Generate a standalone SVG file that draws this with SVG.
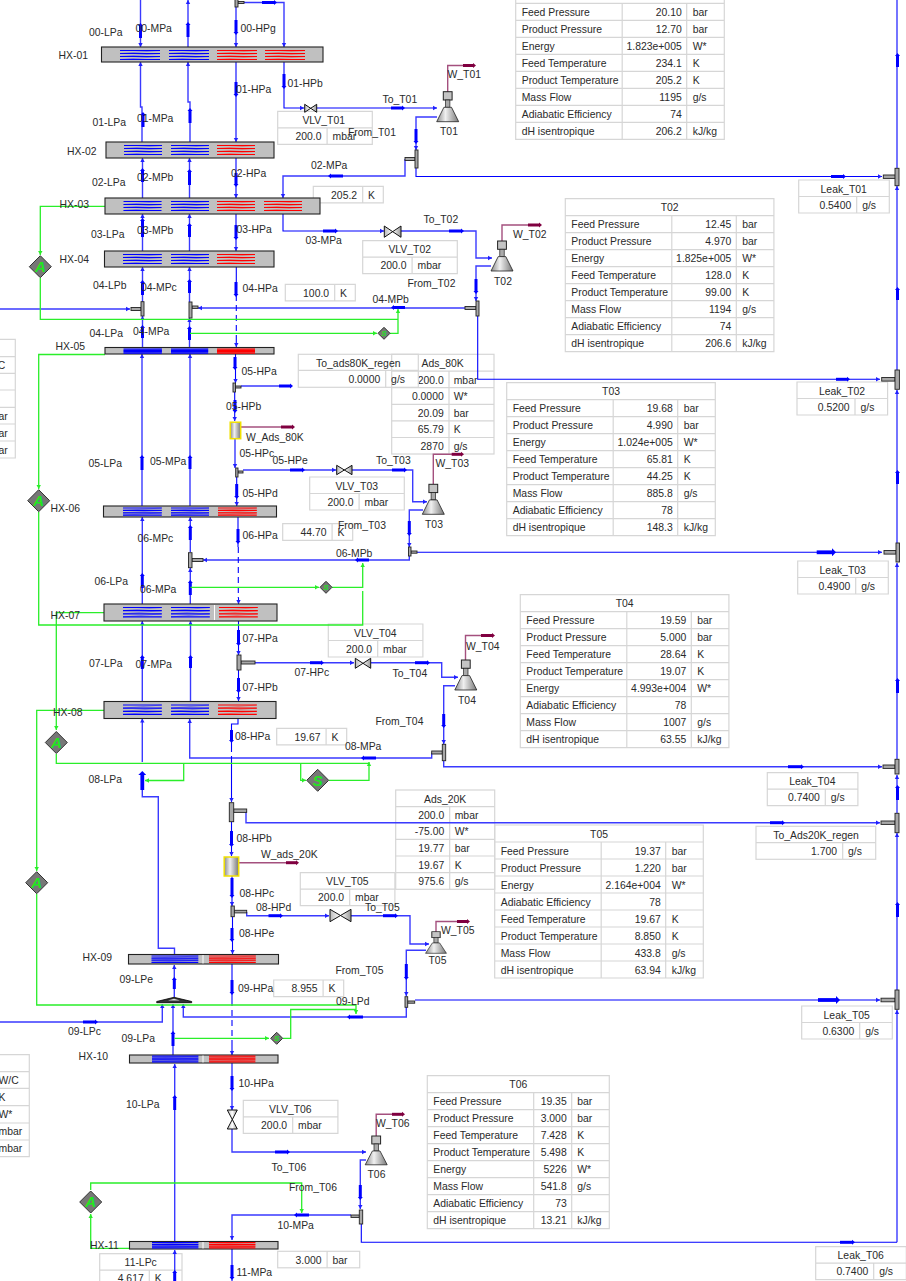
<svg xmlns="http://www.w3.org/2000/svg" width="906" height="1281" viewBox="0 0 906 1281">
<style>
text{font-family:"Liberation Sans",Arial,sans-serif;font-size:10.4px;fill:#2a2a2a}
.n{text-anchor:end}.c{text-anchor:middle}
.tb rect,.tb path,.gr{fill:none;stroke:#d6d6d6;stroke-width:1.2}
.p path{fill:none;stroke:#0000ff;stroke-width:1.1}
.q path{fill:none;stroke:#3a3aff;stroke-width:1.4}
.d path{fill:none;stroke:#0000ff;stroke-width:1.1;stroke-dasharray:6 4}
.a{marker-end:url(#ab)}
.fat path{fill:none;stroke:#0000ff;stroke-width:3;marker-end:url(#fh)}
.lng path{fill:none;stroke:#0000ff;stroke-width:3.8;marker-end:url(#fh2)}
.g path{fill:none;stroke:#2aee2a;stroke-width:1.3}
.ga{marker-end:url(#ag)}
.w path{fill:none;stroke:#a4507e;stroke-width:1.4}
.wf path{fill:none;stroke:#800040;stroke-width:3;marker-end:url(#wh)}
.hx{fill:#c0c0c0;stroke:#222;stroke-width:1.1}
.coil{fill:none;stroke-width:1.2;vector-effect:non-scaling-stroke}
.cz{fill:none;stroke-width:.6;stroke-opacity:.55;vector-effect:non-scaling-stroke}
.b{stroke:#0000ff}.r{stroke:#ff0000}
.tee{fill:#a8a8a8;stroke:#222;stroke-width:.9}
.dia{fill:#777;stroke:#333;stroke-width:1}
.dt{font-weight:bold;font-style:italic;fill:#1fe81f;text-anchor:middle;font-size:15px}
.ds{font-weight:bold;font-style:italic;fill:#1fe81f;text-anchor:middle;font-size:8px}
.vl{fill:url(#gv);stroke:#111;stroke-width:1}
.ads{fill:url(#gt);stroke:#f0e000;stroke-width:1.5}
</style>
<defs>
<linearGradient id="gt"><stop offset="0" stop-color="#8a8a8a"/><stop offset=".4" stop-color="#f0f0f0"/><stop offset="1" stop-color="#777"/></linearGradient>
<linearGradient id="gv"><stop offset="0" stop-color="#bbb"/><stop offset=".5" stop-color="#fff"/><stop offset="1" stop-color="#999"/></linearGradient>
<marker id="ab" markerUnits="userSpaceOnUse" markerWidth="6" markerHeight="6" refX="4" refY="3" orient="auto"><path d="M0 .8L4 3L0 5.2Z" fill="#2020ff"/></marker>
<marker id="ag" markerUnits="userSpaceOnUse" markerWidth="6" markerHeight="6" refX="4" refY="3" orient="auto"><path d="M0 .8L4 3L0 5.2Z" fill="#2aee2a"/></marker>
<marker id="fh" markerUnits="userSpaceOnUse" markerWidth="6" markerHeight="8" refX="0" refY="4" orient="auto"><path d="M0 1.5L3 4L0 6.5Z" fill="#0000ff"/></marker>
<marker id="fh2" markerUnits="userSpaceOnUse" markerWidth="6" markerHeight="8" refX="0" refY="4" orient="auto"><path d="M0 0L4 4L0 8Z" fill="#0000ff"/></marker>
<marker id="wh" markerUnits="userSpaceOnUse" markerWidth="6" markerHeight="8" refX="0" refY="4" orient="auto"><path d="M0 1.5L3 4L0 6.5Z" fill="#800040"/></marker>
<g id="c"><path class="coil" d="M0 0H40M0 3H40M0 6H40M0 9H40"/><path class="cz" d="M40 0L0 3M40 3L0 6M40 6L0 9"/></g>
<path id="g9" class="gr" d="M0 0H208.6V153H0ZM0 17H208.6M0 34H208.6M0 51H208.6M0 68H208.6M0 85H208.6M0 102H208.6M0 119H208.6M0 136H208.6M106.5 17V153M171 17V153"/>
<path id="g6" class="gr" d="M0 0H182V153H0ZM0 17H182M0 34H182M0 51H182M0 68H182M0 85H182M0 102H182M0 119H182M0 136H182M106.4 17V153M144.4 17V153"/>
<path id="g2" class="gr" d="M0 0H94.6V33H0ZM0 16.5H94.6M49.4 16.5V33"/>
<path id="g1" class="gr" d="M0 0H70V16.6H0ZM49.4 0V16.6"/>
<path id="g3" class="gr" d="M0 0H90.6V33H0ZM0 16.5H90.6M58 16.5V33"/>
<g id="tb"><rect x="-4.4" y="0" width="8.8" height="8.3" fill="#c4c4c4" stroke="#222"/><rect x="-2.2" y="8.3" width="4.4" height="7.3" fill="#aaa" stroke="#222" stroke-width=".7"/><path d="M-3.8 15.6H3.8L11 30H-11Z" fill="url(#gt)" stroke="#222" stroke-width=".8"/></g>
<path id="dia" class="dia" d="M0 -11L11 0L0 11L-11 0Z"/>
<path id="dis" class="dia" d="M0 -6L6 0L0 6L-6 0Z"/>
</defs>
<rect width="906" height="1281" fill="#fff"/>

<g id="tables">
<g id="tbl-T01" class="tb" transform="translate(515.7,-13.7)"><use href="#g9"/>
<text x="6" y="29.5">Feed Pressure</text><text class="n" x="166" y="29.5">20.10</text><text x="177" y="29.5">bar</text>
<text x="6" y="46.5">Product Pressure</text><text class="n" x="166" y="46.5">12.70</text><text x="177" y="46.5">bar</text>
<text x="6" y="63.5">Energy</text><text class="n" x="166" y="63.5">1.823e+005</text><text x="177" y="63.5">W*</text>
<text x="6" y="80.5">Feed Temperature</text><text class="n" x="166" y="80.5">234.1</text><text x="177" y="80.5">K</text>
<text x="6" y="97.5">Product Temperature</text><text class="n" x="166" y="97.5">205.2</text><text x="177" y="97.5">K</text>
<text x="6" y="114.5">Mass Flow</text><text class="n" x="166" y="114.5">1195</text><text x="177" y="114.5">g/s</text>
<text x="6" y="131.5">Adiabatic Efficiency</text><text class="n" x="166" y="131.5">74</text>
<text x="6" y="148.5">dH isentropique</text><text class="n" x="166" y="148.5">206.2</text><text x="177" y="148.5">kJ/kg</text></g>
<g id="tbl-T02" class="tb" transform="translate(565.3,198.7)"><use href="#g9"/><text class="c" x="104.3" y="12.5">T02</text>
<text x="6" y="29.5">Feed Pressure</text><text class="n" x="166" y="29.5">12.45</text><text x="177" y="29.5">bar</text>
<text x="6" y="46.5">Product Pressure</text><text class="n" x="166" y="46.5">4.970</text><text x="177" y="46.5">bar</text>
<text x="6" y="63.5">Energy</text><text class="n" x="166" y="63.5">1.825e+005</text><text x="177" y="63.5">W*</text>
<text x="6" y="80.5">Feed Temperature</text><text class="n" x="166" y="80.5">128.0</text><text x="177" y="80.5">K</text>
<text x="6" y="97.5">Product Temperature</text><text class="n" x="166" y="97.5">99.00</text><text x="177" y="97.5">K</text>
<text x="6" y="114.5">Mass Flow</text><text class="n" x="166" y="114.5">1194</text><text x="177" y="114.5">g/s</text>
<text x="6" y="131.5">Adiabatic Efficiency</text><text class="n" x="166" y="131.5">74</text>
<text x="6" y="148.5">dH isentropique</text><text class="n" x="166" y="148.5">206.6</text><text x="177" y="148.5">kJ/kg</text></g>
<g id="tbl-T03" class="tb" transform="translate(506.7,382.7)"><use href="#g9"/><text class="c" x="104.3" y="12.5">T03</text>
<text x="6" y="29.5">Feed Pressure</text><text class="n" x="166" y="29.5">19.68</text><text x="177" y="29.5">bar</text>
<text x="6" y="46.5">Product Pressure</text><text class="n" x="166" y="46.5">4.990</text><text x="177" y="46.5">bar</text>
<text x="6" y="63.5">Energy</text><text class="n" x="166" y="63.5">1.024e+005</text><text x="177" y="63.5">W*</text>
<text x="6" y="80.5">Feed Temperature</text><text class="n" x="166" y="80.5">65.81</text><text x="177" y="80.5">K</text>
<text x="6" y="97.5">Product Temperature</text><text class="n" x="166" y="97.5">44.25</text><text x="177" y="97.5">K</text>
<text x="6" y="114.5">Mass Flow</text><text class="n" x="166" y="114.5">885.8</text><text x="177" y="114.5">g/s</text>
<text x="6" y="131.5">Adiabatic Efficiency</text><text class="n" x="166" y="131.5">78</text>
<text x="6" y="148.5">dH isentropique</text><text class="n" x="166" y="148.5">148.3</text><text x="177" y="148.5">kJ/kg</text></g>
<g id="tbl-T04" class="tb" transform="translate(520.3,594.7)"><use href="#g9"/><text class="c" x="104.3" y="12.5">T04</text>
<text x="6" y="29.5">Feed Pressure</text><text class="n" x="166" y="29.5">19.59</text><text x="177" y="29.5">bar</text>
<text x="6" y="46.5">Product Pressure</text><text class="n" x="166" y="46.5">5.000</text><text x="177" y="46.5">bar</text>
<text x="6" y="63.5">Feed Temperature</text><text class="n" x="166" y="63.5">28.64</text><text x="177" y="63.5">K</text>
<text x="6" y="80.5">Product Temperature</text><text class="n" x="166" y="80.5">19.07</text><text x="177" y="80.5">K</text>
<text x="6" y="97.5">Energy</text><text class="n" x="166" y="97.5">4.993e+004</text><text x="177" y="97.5">W*</text>
<text x="6" y="114.5">Adiabatic Efficiency</text><text class="n" x="166" y="114.5">78</text>
<text x="6" y="131.5">Mass Flow</text><text class="n" x="166" y="131.5">1007</text><text x="177" y="131.5">g/s</text>
<text x="6" y="148.5">dH isentropique</text><text class="n" x="166" y="148.5">63.55</text><text x="177" y="148.5">kJ/kg</text></g>
<g id="tbl-T05" class="tb" transform="translate(494.7,825)"><use href="#g9"/><text class="c" x="104.3" y="12.5">T05</text>
<text x="6" y="29.5">Feed Pressure</text><text class="n" x="166" y="29.5">19.37</text><text x="177" y="29.5">bar</text>
<text x="6" y="46.5">Product Pressure</text><text class="n" x="166" y="46.5">1.220</text><text x="177" y="46.5">bar</text>
<text x="6" y="63.5">Energy</text><text class="n" x="166" y="63.5">2.164e+004</text><text x="177" y="63.5">W*</text>
<text x="6" y="80.5">Adiabatic Efficiency</text><text class="n" x="166" y="80.5">78</text>
<text x="6" y="97.5">Feed Temperature</text><text class="n" x="166" y="97.5">19.67</text><text x="177" y="97.5">K</text>
<text x="6" y="114.5">Product Temperature</text><text class="n" x="166" y="114.5">8.850</text><text x="177" y="114.5">K</text>
<text x="6" y="131.5">Mass Flow</text><text class="n" x="166" y="131.5">433.8</text><text x="177" y="131.5">g/s</text>
<text x="6" y="148.5">dH isentropique</text><text class="n" x="166" y="148.5">63.94</text><text x="177" y="148.5">kJ/kg</text></g>
<g id="tbl-T06" class="tb" transform="translate(427.3,1075.7)"><use href="#g6"/><text class="c" x="91" y="12.5">T06</text>
<text x="6" y="29.5">Feed Pressure</text><text class="n" x="139.4" y="29.5">19.35</text><text x="150" y="29.5">bar</text>
<text x="6" y="46.5">Product Pressure</text><text class="n" x="139.4" y="46.5">3.000</text><text x="150" y="46.5">bar</text>
<text x="6" y="63.5">Feed Temperature</text><text class="n" x="139.4" y="63.5">7.428</text><text x="150" y="63.5">K</text>
<text x="6" y="80.5">Product Temperature</text><text class="n" x="139.4" y="80.5">5.498</text><text x="150" y="80.5">K</text>
<text x="6" y="97.5">Energy</text><text class="n" x="139.4" y="97.5">5226</text><text x="150" y="97.5">W*</text>
<text x="6" y="114.5">Mass Flow</text><text class="n" x="139.4" y="114.5">541.8</text><text x="150" y="114.5">g/s</text>
<text x="6" y="131.5">Adiabatic Efficiency</text><text class="n" x="139.4" y="131.5">73</text>
<text x="6" y="148.5">dH isentropique</text><text class="n" x="139.4" y="148.5">13.21</text><text x="150" y="148.5">kJ/kg</text></g>

<g id="tbl-Ads80" class="tb" transform="translate(391.7,354.3)"><rect width="102.3" height="99.7"/><path d="M0 16.8H102.3M0 33.4H102.3M0 50H102.3M0 66.6H102.3M0 83.2H102.3M57.3 16.8V99.7"/>
<text class="c" x="51" y="12.5">Ads_80K</text>
<text class="n" x="52" y="29.5">200.0</text><text x="62" y="29.5">mbar</text>
<text class="n" x="52" y="46">0.0000</text><text x="62" y="46">W*</text>
<text class="n" x="52" y="62.8">20.09</text><text x="62" y="62.8">bar</text>
<text class="n" x="52" y="79">65.79</text><text x="62" y="79">K</text>
<text class="n" x="52" y="96">2870</text><text x="62" y="96">g/s</text></g>
<g id="tbl-regen80" class="tb" transform="translate(298.3,354.3)"><rect width="120" height="33"/><path d="M0 16H120M87.4 16V33"/><text class="c" x="60" y="12.5">To_ads80K_regen</text><text class="n" x="81.9" y="28.5">0.0000</text><text x="92.8" y="28.5">g/s</text></g>
<g id="tbl-Ads20" class="tb" transform="translate(395.7,790)"><rect width="99" height="99.3"/><path d="M0 16.7H99M0 32.7H99M0 49.3H99M0 66H99M0 82.7H99M54 16.7V99.3"/>
<text class="c" x="49.5" y="12.5">Ads_20K</text>
<text class="n" x="48.5" y="29">200.0</text><text x="59" y="29">mbar</text>
<text class="n" x="48.5" y="45.2">-75.00</text><text x="59" y="45.2">W*</text>
<text class="n" x="48.5" y="62">19.77</text><text x="59" y="62">bar</text>
<text class="n" x="48.5" y="78.5">19.67</text><text x="59" y="78.5">K</text>
<text class="n" x="48.5" y="95">975.6</text><text x="59" y="95">g/s</text></g>

<g id="tbl-VLV_T01" class="tb" transform="translate(277.7,111.3)"><use href="#g2"/><text class="c" x="46" y="12.5">VLV_T01</text><text class="n" x="43.8" y="28.8">200.0</text><text x="54.8" y="28.8">mbar</text></g>
<g id="tbl-VLV_T02" class="tb" transform="translate(362.7,240.7)"><use href="#g2"/><text class="c" x="47" y="12.5">VLV_T02</text><text class="n" x="43.8" y="28.8">200.0</text><text x="54.8" y="28.8">mbar</text></g>
<g id="tbl-VLV_T03" class="tb" transform="translate(309.7,477)"><use href="#g2"/><text class="c" x="47" y="12.5">VLV_T03</text><text class="n" x="43.8" y="28.8">200.0</text><text x="54.8" y="28.8">mbar</text></g>
<g id="tbl-VLV_T04" class="tb" transform="translate(328.3,624)"><use href="#g2"/><text class="c" x="47" y="12.5">VLV_T04</text><text class="n" x="43.8" y="28.8">200.0</text><text x="54.8" y="28.8">mbar</text></g>
<g id="tbl-VLV_T05" class="tb" transform="translate(300.3,872.7)"><use href="#g2"/><text class="c" x="47" y="12.5">VLV_T05</text><text class="n" x="43.8" y="28.8">200.0</text><text x="54.8" y="28.8">mbar</text></g>
<g id="tbl-VLV_T06" class="tb" transform="translate(243.3,1100.3)"><use href="#g2"/><text class="c" x="47" y="12.5">VLV_T06</text><text class="n" x="43.8" y="28.8">200.0</text><text x="54.8" y="28.8">mbar</text></g>

<g class="tb" transform="translate(313.3,186.3)"><use href="#g1"/><text class="n" x="43.8" y="12.3">205.2</text><text x="54.8" y="12.3">K</text></g>
<g class="tb" transform="translate(285.3,284.3)"><use href="#g1"/><text class="n" x="43.8" y="12.3">100.0</text><text x="54.8" y="12.3">K</text></g>
<g class="tb" transform="translate(282.7,523.7)"><use href="#g1"/><text class="n" x="43.8" y="12.3">44.70</text><text x="54.8" y="12.3">K</text></g>
<g class="tb" transform="translate(276.7,728.3)"><use href="#g1"/><text class="n" x="43.8" y="12.3">19.67</text><text x="54.8" y="12.3">K</text></g>
<g class="tb" transform="translate(273.7,980)"><use href="#g1"/><text class="n" x="43.8" y="12.3">8.955</text><text x="54.8" y="12.3">K</text></g>
<g class="tb" transform="translate(277.7,1251.3)"><rect width="82" height="16.5"/><path d="M49.4 0V16.5"/><text class="n" x="43.8" y="12.3">3.000</text><text x="54.8" y="12.3">bar</text></g>

<g class="tb" transform="translate(798.7,180)"><use href="#g3"/><text class="c" x="45" y="12.5">Leak_T01</text><text class="n" x="52.5" y="28.8">0.5400</text><text x="63.5" y="28.8">g/s</text></g>
<g class="tb" transform="translate(797,382)"><use href="#g3"/><text class="c" x="45" y="12.5">Leak_T02</text><text class="n" x="52.5" y="28.8">0.5200</text><text x="63.5" y="28.8">g/s</text></g>
<g class="tb" transform="translate(797.7,561)"><use href="#g3"/><text class="c" x="45" y="12.5">Leak_T03</text><text class="n" x="52.5" y="28.8">0.4900</text><text x="63.5" y="28.8">g/s</text></g>
<g class="tb" transform="translate(767.3,772.7)"><use href="#g3"/><text class="c" x="45" y="12.5">Leak_T04</text><text class="n" x="52.5" y="28.8">0.7400</text><text x="63.5" y="28.8">g/s</text></g>
<g class="tb" transform="translate(801.7,1006)"><use href="#g3"/><text class="c" x="45" y="12.5">Leak_T05</text><text class="n" x="52.5" y="28.8">0.6300</text><text x="63.5" y="28.8">g/s</text></g>
<g class="tb" transform="translate(815.7,1246.7)"><use href="#g3"/><text class="c" x="45" y="12.5">Leak_T06</text><text class="n" x="52.5" y="28.8">0.7400</text><text x="63.5" y="28.8">g/s</text></g>
<g class="tb" transform="translate(756,826.3)"><rect width="119.7" height="33"/><path d="M0 16.4H119.7M86.7 16.4V33"/><text class="c" x="60" y="12.5">To_Ads20K_regen</text><text class="n" x="81" y="28.8">1.700</text><text x="92" y="28.8">g/s</text></g>
<g class="tb" transform="translate(99.7,1253.7)"><rect width="82.3" height="40"/><path d="M0 16.4H82.3M49.6 16.4V40"/><text class="c" x="41" y="12.5">11-LPc</text><text class="n" x="44" y="28.8">4.617</text><text x="55" y="28.8">K</text></g>

<g class="tb"><path d="M-2 339.3H15.3V458H-2M-2 356.7H15.3M-2 373.3H15.3M-2 390H15.3M-2 407.3H15.3M-2 424H15.3M-2 441H15.3"/>
<text x="-15" y="369">W/C</text><text x="-7.3" y="420">bar</text><text x="-7.3" y="437">bar</text><text x="-7.3" y="454">bar</text></g>
<g class="tb"><path d="M-2 1054.7H29.3V1156.7H-2M-2 1071.7H29.3M-2 1088.3H29.3M-2 1105.7H29.3M-2 1123H29.3M-2 1140H29.3"/>
<text x="-1.5" y="1084">W/C</text><text x="-1.5" y="1101">K</text><text x="-1.5" y="1118">W*</text><text x="-1.5" y="1135">mbar</text><text x="-1.5" y="1152">mbar</text></g>
</g>

<g id="connectors">
<g class="q">
<path class="a" d="M140.5 0V47"/><path class="a" d="M142 142V107H140.5V62"/><path class="a" d="M142.5 198V158"/><path class="a" d="M142.5 251V214"/><path class="a" d="M142.5 302V267"/><path class="a" d="M142.5 347V316"/><path class="a" d="M142 506V354"/><path class="a" d="M142.3 604V517"/><path class="a" d="M142.3 701V621"/><path class="a" d="M142.3 762V718.5"/>
<path d="M174.5 954V948.3H158.3V796.7H142.3V788"/>
<path class="a" d="M188 47V0"/><path class="a" d="M190 142V102H188V62"/><path class="a" d="M189.5 198V158"/><path class="a" d="M189.5 251V214"/><path class="a" d="M189.5 302V267"/><path class="a" d="M189.5 347V318"/><path class="a" d="M190 506V354"/><path class="a" d="M190.3 552V517"/><path class="a" d="M190.3 604V568"/><path class="a" d="M190.5 701V621"/>
<path class="a" d="M431.7 752.7V758H189.7V719"/>
<path class="a" d="M244 2.5H284V47"/><path class="a" d="M437 117H416V150"/><path class="a" d="M405 159V176H283V198"/><path class="a" d="M401 231H476V258H492"/><path class="a" d="M491 266H476V301"/><path class="a" d="M465 308H198"/><path class="a" d="M0 309H130"/>
<path d="M241 386H280"/><path class="a" d="M243 470H336"/><path class="a" d="M352 470H412.7V501.7H427"/><path class="a" d="M423 510H409.3V547"/><path class="a" d="M409.3 556V560H203"/>
<path class="a" d="M255 662.7H354"/><path class="a" d="M371 662.7H441.7V677.3H458"/><path class="a" d="M455 685.7H443.7V744"/><path class="a" d="M443.7 761V766.7H882"/>
<path class="a" d="M246 811V822.7H880"/><path class="a" d="M246.7 912V915.7H329"/><path class="a" d="M351 915.7H410V944H429"/><path class="a" d="M426 950.3H406.3V996"/><path class="a" d="M406.3 1007V1017H183.3V1004"/><path class="a" d="M0 1022H162.3V1004"/><path class="a" d="M173 1055V1004"/><path class="a" d="M174.3 997V965"/>
<path class="a" d="M232 1129V1152H366"/><path class="a" d="M366 1160H360.3V1209"/><path class="a" d="M351 1215H232V1240"/>
<path class="a" d="M174.7 1241V1064"/><path class="a" d="M174.7 1281V1250"/>
<path class="a" d="M897 1242.3V1010"/><path class="a" d="M897 990V833"/><path class="a" d="M897 813V775"/><path class="a" d="M897 759V563"/><path class="a" d="M897 543V390"/><path class="a" d="M897 370V186"/><path d="M897 168V0"/>
</g>
<g class="p">
<path class="a" d="M236 7V47"/><path class="a" d="M236 62V142"/><path class="a" d="M236 158V198"/><path class="a" d="M236 214V251"/><path d="M236.3 267V295"/><path class="a" d="M236.3 341V347"/><path class="a" d="M235.5 354V383"/><path class="a" d="M234.7 392V421"/><path class="a" d="M235 439V468"/><path class="a" d="M236.7 477V506"/><path d="M238 517V547"/><path class="a" d="M238.5 598V604"/><path class="a" d="M238.5 621V655"/><path class="a" d="M238.5 670V701"/><path d="M238 718.5V724H231.5V746"/><path class="a" d="M231.5 762V802"/><path class="a" d="M231.5 822V856"/><path class="a" d="M232 876V906"/><path class="a" d="M232.5 917V954"/><path d="M232 964V1000"/><path class="a" d="M232 1046V1055"/><path class="a" d="M232 1063V1110"/><path d="M232 1249V1281"/>
<path class="a" d="M284 62V108H304"/><path class="a" d="M317 108H437"/><path class="a" d="M416 168V176.5H882"/><path class="a" d="M283 214V231H384"/><path class="a" d="M477.7 316V379.3H880"/><path class="a" d="M417 552.3H882"/><path class="a" d="M415 1000H880"/><path d="M361.3 1224V1242.3H897"/>
</g>
<g class="d"><path d="M236.3 295V341"/><path d="M238.3 547V598"/><path d="M231.5 746V762"/><path d="M232 1000V1046"/></g>
<g class="fat">
<path d="M140.5 38V26"/><path d="M188 37V25"/><path d="M236 20V32"/><path d="M284 74V86"/><path d="M262 2.5H274"/>
<path d="M143 127V115"/><path d="M190 123V111"/><path d="M236 82V94"/><path d="M391 108H402"/><path d="M416 129V141"/><path d="M343 176H331"/>
<path d="M142.5 182V171"/><path d="M189.5 185V172"/><path d="M236 173V184"/>
<path d="M142.5 237V221"/><path d="M189.5 237V226"/><path d="M236 225V237"/><path d="M323 231H335"/><path d="M449 231H461"/><path d="M476 279V291"/>
<path d="M142.5 295V283"/><path d="M189.5 293V282"/><path d="M236 282V294"/><path d="M405 307.5H394"/>
<path d="M142.5 338V328"/><path d="M189.5 340V329"/>
<path d="M235 357V367"/><path d="M235 400V410"/><path d="M279 386H290"/><path d="M290 470H302"/><path d="M392 470H404"/><path d="M409.3 521V533"/>
<path d="M142 470V458"/><path d="M190 469V458"/><path d="M236.7 484V496"/><path d="M238 529V541"/><path d="M369 560H358"/>
<path d="M142.3 588V576"/><path d="M190.3 540V528"/><path d="M190.3 595V583"/><path d="M238.5 630V643"/>
<path d="M142.3 669V658"/><path d="M190.5 668V658"/><path d="M310 662.7H321"/><path d="M415 662.7H427"/><path d="M238.5 678V690"/><path d="M443.7 714V725"/><path d="M788 766.7H801"/><path d="M376 758H364"/>
<path d="M231.5 730V740"/><path d="M231.5 831V844"/><path d="M232 878V895"/><path d="M770 822.7H782"/><path d="M268.5 915.7H280"/><path d="M383 915.7H395"/><path d="M406.3 964V977"/><path d="M232 928V939"/><path d="M232 980V992"/>
<path d="M174.3 989V980"/><path d="M83 1022H95"/><path d="M173 1046V1034"/><path d="M363 1017H350"/>
<path d="M232 1076V1088"/><path d="M174.7 1110V1098"/><path d="M275 1152H287"/><path d="M360.3 1185V1197"/><path d="M309 1215H297"/><path d="M232 1265V1277"/><path d="M174.7 1281V1273"/>
<path d="M831 176.5H843"/><path d="M836 379.3H847"/><path d="M840 1242.3H852"/>
<path d="M897.5 67V56"/><path d="M897.5 300V290"/><path d="M897.5 484V473"/><path d="M897.5 693V681"/><path d="M897.5 800V788"/><path d="M897.5 917V905"/>
</g>
<g class="lng"><path d="M142.3 790V775"/><path d="M816.7 552.3H832"/><path d="M818 1000H836"/></g>
<g class="g">
<path class="ga" d="M105 206.3H40.3V255"/><path class="ga" d="M40.3 278V319.3H398V309"/><path class="ga" d="M190 333.3H377"/><path d="M390 333.3H398V320"/>
<path class="ga" d="M105 354.5H38.7V489"/><path d="M38.7 512V625H362.7V591"/><path class="ga" d="M190.5 587.3H319"/><path class="ga" d="M332 587.3H362.7V563"/>
<path class="ga" d="M104 612.7H56.3V730"/><path d="M56.3 754V763.3H369"/><path class="ga" d="M183.7 763.3V780.5H145"/><path class="ga" d="M300.7 763.3V780.3H306"/><path class="ga" d="M329 780.3H369V762"/>
<path class="ga" d="M104 710.3H36.7V871"/><path class="ga" d="M36.7 894V1005H356V1014"/><path class="ga" d="M174.5 1038.3H269"/><path d="M283 1038.3H290.7V1009.5H356"/>
<path class="ga" d="M129 1248.3H90.7V1214"/><path class="ga" d="M90.7 1190V1183H301.7V1213"/>
</g>
<g class="w"><path d="M447.7 92V65.5H464"/><path d="M502 241V225H530"/><path d="M241 427H282"/><path d="M433.3 484V454.3H452"/><path d="M465.5 660V635.5H482"/><path d="M238.7 862.7H287"/><path d="M436 932V921.5H458"/><path d="M376.2 1136V1114.3H393"/></g>
<g class="wf"><path d="M463 65.5H473"/><path d="M528 225H539"/><path d="M281 427H292"/><path d="M451.7 454.3H461"/><path d="M481 635.5H492"/><path d="M286 862.7H296"/><path d="M457 921.5H467"/><path d="M392 1114.3H402"/></g>
<g id="pipe-labels">
<text x="89" y="36">00-LPa</text><text x="135.5" y="32">00-MPa</text><text x="240.5" y="32">00-HPg</text><text x="287.5" y="87">01-HPb</text><text x="236" y="93">01-HPa</text><text x="382.5" y="103">To_T01</text><text x="348" y="136">From_T01</text><text x="92.5" y="126">01-LPa</text><text x="137" y="122">01-MPa</text><text x="92" y="186">02-LPa</text><text x="137" y="181">02-MPb</text><text x="231" y="177">02-HPa</text><text x="311" y="169">02-MPa</text><text x="91" y="238">03-LPa</text><text x="137" y="234">03-MPb</text><text x="236.5" y="233">03-HPa</text><text x="305.5" y="244">03-MPa</text><text x="423.5" y="223">To_T02</text><text x="407.5" y="287">From_T02</text><text x="93" y="289">04-LPb</text><text x="141" y="291">04-MPc</text><text x="242.5" y="292">04-HPa</text><text x="372.5" y="303">04-MPb</text><text x="89.5" y="337">04-LPa</text><text x="133" y="335">04-MPa</text><text x="241.5" y="375">05-HPa</text><text x="226" y="410">05-HPb</text><text x="88.5" y="467">05-LPa</text><text x="150" y="465">05-MPa</text><text x="239.5" y="457">05-HPc</text><text x="272.5" y="464">05-HPe</text><text x="376" y="464">To_T03</text><text x="242.5" y="497">05-HPd</text><text x="242.5" y="539">06-HPa</text><text x="338" y="529">From_T03</text><text x="137.5" y="542">06-MPc</text><text x="336" y="557">06-MPb</text><text x="94.5" y="585">06-LPa</text><text x="140" y="593">06-MPa</text><text x="242.5" y="642">07-HPa</text><text x="89" y="667">07-LPa</text><text x="135.5" y="668">07-MPa</text><text x="294.5" y="676">07-HPc</text><text x="392.5" y="677">To_T04</text><text x="242.5" y="691">07-HPb</text><text x="375.5" y="725">From_T04</text><text x="235" y="740">08-HPa</text><text x="345" y="750">08-MPa</text><text x="88.5" y="783">08-LPa</text><text x="236.5" y="842">08-HPb</text><text x="239.5" y="897">08-HPc</text><text x="256" y="911">08-HPd</text><text x="365" y="911">To_T05</text><text x="239" y="937">08-HPe</text><text x="119.5" y="983">09-LPe</text><text x="238" y="992">09-HPa</text><text x="335.5" y="974">From_T05</text><text x="336" y="1005">09-LPd</text><text x="68" y="1035">09-LPc</text><text x="121.5" y="1042">09-LPa</text><text x="238.5" y="1087">10-HPa</text><text x="126" y="1108">10-LPa</text><text x="271.5" y="1171">To_T06</text><text x="289" y="1191">From_T06</text><text x="277.5" y="1229">10-MPa</text><text x="236.5" y="1276">11-MPa</text>
</g>
</g>

<g id="HX-01"><rect class="hx" x="101.5" y="47" width="221.5" height="15"/><use href="#c" class="b" transform="translate(120,50.5)"/><use href="#c" class="b" transform="translate(169,50.5)"/><use href="#c" class="r" transform="translate(217,50.5)"/><use href="#c" class="r" transform="translate(265,50.5)"/><text x="58.5" y="59">HX-01</text></g>
<g id="HX-02"><rect class="hx" x="106" y="142" width="168" height="16"/><use href="#c" class="b" transform="translate(124,145.5) scale(.95,1)"/><use href="#c" class="b" transform="translate(171,145.5) scale(.95,1)"/><use href="#c" class="r" transform="translate(217,145.5) scale(.95,1)"/><text x="67" y="155">HX-02</text></g>
<g id="HX-03"><rect class="hx" x="105" y="198" width="215" height="16"/><use href="#c" class="b" transform="translate(123.5,201.5) scale(.95,1)"/><use href="#c" class="b" transform="translate(171,201.5) scale(.95,1)"/><use href="#c" class="r" transform="translate(217,201.5) scale(.95,1)"/><use href="#c" class="r" transform="translate(264,201.5) scale(.95,1)"/><text x="59.5" y="208">HX-03</text></g>
<g id="HX-04"><rect class="hx" x="104.5" y="251" width="169.5" height="16"/><use href="#c" class="b" transform="translate(123,254.5) scale(.97,1)"/><use href="#c" class="b" transform="translate(171,254.5) scale(.95,1)"/><use href="#c" class="r" transform="translate(217,254.5) scale(.95,1)"/><text x="59.5" y="263">HX-04</text></g>
<g id="HX-05"><rect class="hx" x="105" y="347.5" width="169" height="6.5"/><use href="#c" class="b" transform="translate(123.5,349) scale(.96,.45)"/><use href="#c" class="b" transform="translate(171,349) scale(.93,.45)"/><use href="#c" class="r" transform="translate(217,349) scale(.95,.45)"/><text x="55.5" y="350">HX-05</text></g>
<g id="HX-06"><rect class="hx" x="103.5" y="506" width="173" height="11"/><use href="#c" class="b" transform="translate(123,508) scale(.97,.8)"/><use href="#c" class="b" transform="translate(171,508) scale(.95,.8)"/><use href="#c" class="r" transform="translate(218,508) scale(.97,.8)"/><text x="50.5" y="512">HX-06</text></g>
<g id="HX-07"><rect class="hx" x="104" y="604" width="173" height="17"/><use href="#c" class="b" transform="translate(123,607.5) scale(.97,1.05)"/><use href="#c" class="b" transform="translate(171,607.5) scale(.97,1.05)"/><path d="M214.5 605V620" stroke="#fff" stroke-width="1"/><use href="#c" class="r" transform="translate(219,607.5) scale(.97,1.05)"/><text x="50.5" y="619">HX-07</text></g>
<g id="HX-08"><rect class="hx" x="104" y="701.5" width="172" height="17"/><use href="#c" class="b" transform="translate(123,705) scale(.97,1.05)"/><use href="#c" class="b" transform="translate(171,705) scale(.95,1.05)"/><use href="#c" class="r" transform="translate(218,705) scale(.97,1.05)"/><text x="53" y="716">HX-08</text></g>
<g id="HX-09"><rect class="hx" x="128.5" y="954.5" width="150" height="9.5"/><use href="#c" class="b" transform="translate(151.5,956) scale(1.17,.7)"/><path d="M203 955V963.5" stroke="#fff" stroke-width="1"/><use href="#c" class="r" transform="translate(209,956) scale(1.17,.7)"/><text x="82.5" y="961">HX-09</text></g>
<g id="HX-10"><rect class="hx" x="129.5" y="1055" width="148.5" height="8"/><use href="#c" class="b" transform="translate(152,1056.2) scale(1.16,.62)"/><path d="M203 1055.5V1062.5" stroke="#fff" stroke-width="1"/><use href="#c" class="r" transform="translate(209,1056.2) scale(1.16,.62)"/><text x="78.5" y="1060">HX-10</text></g>
<g id="HX-11"><rect class="hx" x="129.5" y="1241.5" width="148.5" height="7.5"/><use href="#c" class="b" transform="translate(152,1242.5) scale(1.16,.6)"/><path d="M203 1242V1248.5" stroke="#fff" stroke-width="1"/><use href="#c" class="r" transform="translate(209,1242.5) scale(1.16,.6)"/><text x="90" y="1249">HX-11</text></g>

<g id="tees">
<g id="tee-00"><rect class="tee" x="238" y="1.5" width="6" height="2"/><rect class="tee" x="235" y="-2" width="3" height="9"/></g>
<g id="tee-T01"><rect class="tee" x="405" y="157.5" width="10" height="3"/><rect class="tee" x="415" y="150" width="3" height="18"/></g>
<g id="tee-L1"><rect class="tee" x="883.3" y="175" width="12" height="3.4"/><rect class="tee" x="895" y="168.3" width="4" height="17.4"/></g>
<g id="tee-T02"><rect class="tee" x="465" y="306.5" width="11" height="3"/><rect class="tee" x="476" y="301" width="3" height="15"/></g>
<g id="tee-L2"><rect class="tee" x="881.7" y="377.5" width="13.3" height="3.6"/><rect class="tee" x="895" y="370" width="4.4" height="19.3"/></g>
<g id="tee-LP4"><rect class="tee" x="131" y="307.5" width="10" height="3"/><rect class="tee" x="141" y="301.7" width="3" height="14.3"/></g>
<g id="tee-MP4"><rect class="tee" x="192" y="306" width="6" height="2.4"/><rect class="tee" x="189" y="302" width="3" height="16"/></g>
<g id="tee-05a"><rect class="tee" x="235.5" y="386" width="5.5" height="2"/><rect class="tee" x="233" y="383" width="2.5" height="9"/></g>
<g id="tee-05b"><rect class="tee" x="238" y="471" width="5" height="2"/><rect class="tee" x="235.7" y="468" width="2.3" height="9"/></g>
<g id="tee-T03"><rect class="tee" x="411" y="551" width="6" height="2.2"/><rect class="tee" x="408.5" y="547" width="2.5" height="9"/></g>
<g id="tee-MP6"><rect class="tee" x="192" y="558.5" width="11" height="3"/><rect class="tee" x="188.5" y="552.7" width="3.5" height="15"/></g>
<g id="tee-L3"><rect class="tee" x="884" y="550.5" width="12" height="3.6"/><rect class="tee" x="896" y="543" width="3.5" height="19"/></g>
<g id="tee-07"><rect class="tee" x="241" y="661" width="14" height="3"/><rect class="tee" x="237" y="655" width="4" height="15"/></g>
<g id="tee-T04"><rect class="tee" x="431.7" y="751" width="10.6" height="3"/><rect class="tee" x="442.3" y="744.3" width="3.4" height="16.4"/></g>
<g id="tee-L4"><rect class="tee" x="883" y="765" width="12" height="3.4"/><rect class="tee" x="895" y="759.3" width="4" height="14.7"/></g>
<g id="tee-08"><rect class="tee" x="233.7" y="809" width="13" height="3.4"/><rect class="tee" x="229.3" y="802.7" width="4.4" height="19"/></g>
<g id="tee-R20"><rect class="tee" x="881" y="821" width="14" height="3.4"/><rect class="tee" x="895" y="813.3" width="4" height="19.4"/></g>
<g id="tee-08d"><rect class="tee" x="234.3" y="910.3" width="12.4" height="2.6"/><rect class="tee" x="231" y="906" width="3.3" height="10.7"/></g>
<g id="tee-T05"><rect class="tee" x="407.7" y="1001" width="7" height="2.2"/><rect class="tee" x="405" y="996.7" width="2.7" height="10.6"/></g>
<g id="tee-L5"><rect class="tee" x="881" y="998.2" width="14" height="3.6"/><rect class="tee" x="895" y="990" width="4" height="19.3"/></g>
<g id="tee-T06"><rect class="tee" x="351" y="1215" width="8.3" height="2.4"/><rect class="tee" x="359.3" y="1210" width="3.4" height="14"/></g>
</g>

<g id="VLV_T01"><path class="vl" d="M304.7 104.3L316.7 112.3V104.3L304.7 112.3Z"/></g>
<g id="VLV_T02"><path class="vl" d="M384.3 226L401 237.3V226L384.3 237.3Z"/></g>
<g id="VLV_T03"><path class="vl" d="M336.7 465.3L352 474.7V465.3L336.7 474.7Z"/></g>
<g id="VLV_T04"><path class="vl" d="M355.3 658.3L370.7 668.3V658.3L355.3 668.3Z"/></g>
<g id="VLV_T05"><path class="vl" d="M330 909.3L351 921.7V909.3L330 921.7Z"/></g>
<g id="VLV_T06"><path class="vl" d="M227.3 1110H237.3L227.3 1129H237.3Z"/></g>

<g id="T01"><use href="#tb" transform="translate(447.7,91.7)"/><text x="440" y="135">T01</text><text x="447.5" y="78">W_T01</text></g>
<g id="T02"><use href="#tb" transform="translate(502,241)"/><text x="494" y="285">T02</text><text x="513" y="238">W_T02</text></g>
<g id="T03"><use href="#tb" transform="translate(433.3,484.3)"/><text x="425" y="528">T03</text><text x="435.5" y="467">W_T03</text></g>
<g id="T04"><use href="#tb" transform="translate(465.8,660)"/><text x="458" y="704">T04</text><text x="466" y="650">W_T04</text></g>
<g id="T05"><use href="#tb" transform="translate(436,931.7) scale(.95,.72)"/><text x="428.5" y="964">T05</text><text x="441" y="934">W_T05</text></g>
<g id="T06"><use href="#tb" transform="translate(376.2,1136) scale(1,.96)"/><text x="367.5" y="1178">T06</text><text x="376" y="1127">W_T06</text></g>

<g id="Ads_80K"><rect class="ads" x="230.2" y="422.2" width="10.5" height="16.5"/><text x="246" y="441">W_Ads_80K</text></g>
<g id="Ads_20K"><rect class="ads" x="224.2" y="857" width="14.5" height="19"/><text x="261" y="858">W_ads_20K</text></g>
<g id="mixer"><path d="M156.7 1001.5L174 997.3L191.7 1001.5V1002.7H156.7Z" fill="#333" stroke="#000" stroke-width=".8"/><path d="M168 1000.5L174 998.8L180 1000.5Z" fill="#ddd"/></g>

<g id="ctrl-A1"><use href="#dia" transform="translate(40.3,266.7)"/><text class="dt" x="40.3" y="272">A</text></g>
<g id="ctrl-A2"><use href="#dia" transform="translate(38.7,500.7)"/><text class="dt" x="38.7" y="506">A</text></g>
<g id="ctrl-A3"><use href="#dia" transform="translate(56.3,742.5)"/><text class="dt" x="56.3" y="748">A</text></g>
<g id="ctrl-A4"><use href="#dia" transform="translate(36.7,882.7)"/><text class="dt" x="36.7" y="888">A</text></g>
<g id="ctrl-A5"><use href="#dia" transform="translate(90.7,1202)"/><text class="dt" x="90.7" y="1207">A</text></g>
<g id="ctrl-S1"><use href="#dis" transform="translate(384,333.3)"/><text class="ds" x="384" y="336">S</text></g>
<g id="ctrl-S2"><use href="#dis" transform="translate(326,587.3)"/><text class="ds" x="326" y="590">S</text></g>
<g id="ctrl-S3"><use href="#dia" transform="translate(317.7,780.3)"/><text class="dt" x="317.7" y="786">S</text></g>
<g id="ctrl-S4"><use href="#dis" transform="translate(276.7,1038.3)"/><text class="ds" x="276.7" y="1041">S</text></g>
</svg>
